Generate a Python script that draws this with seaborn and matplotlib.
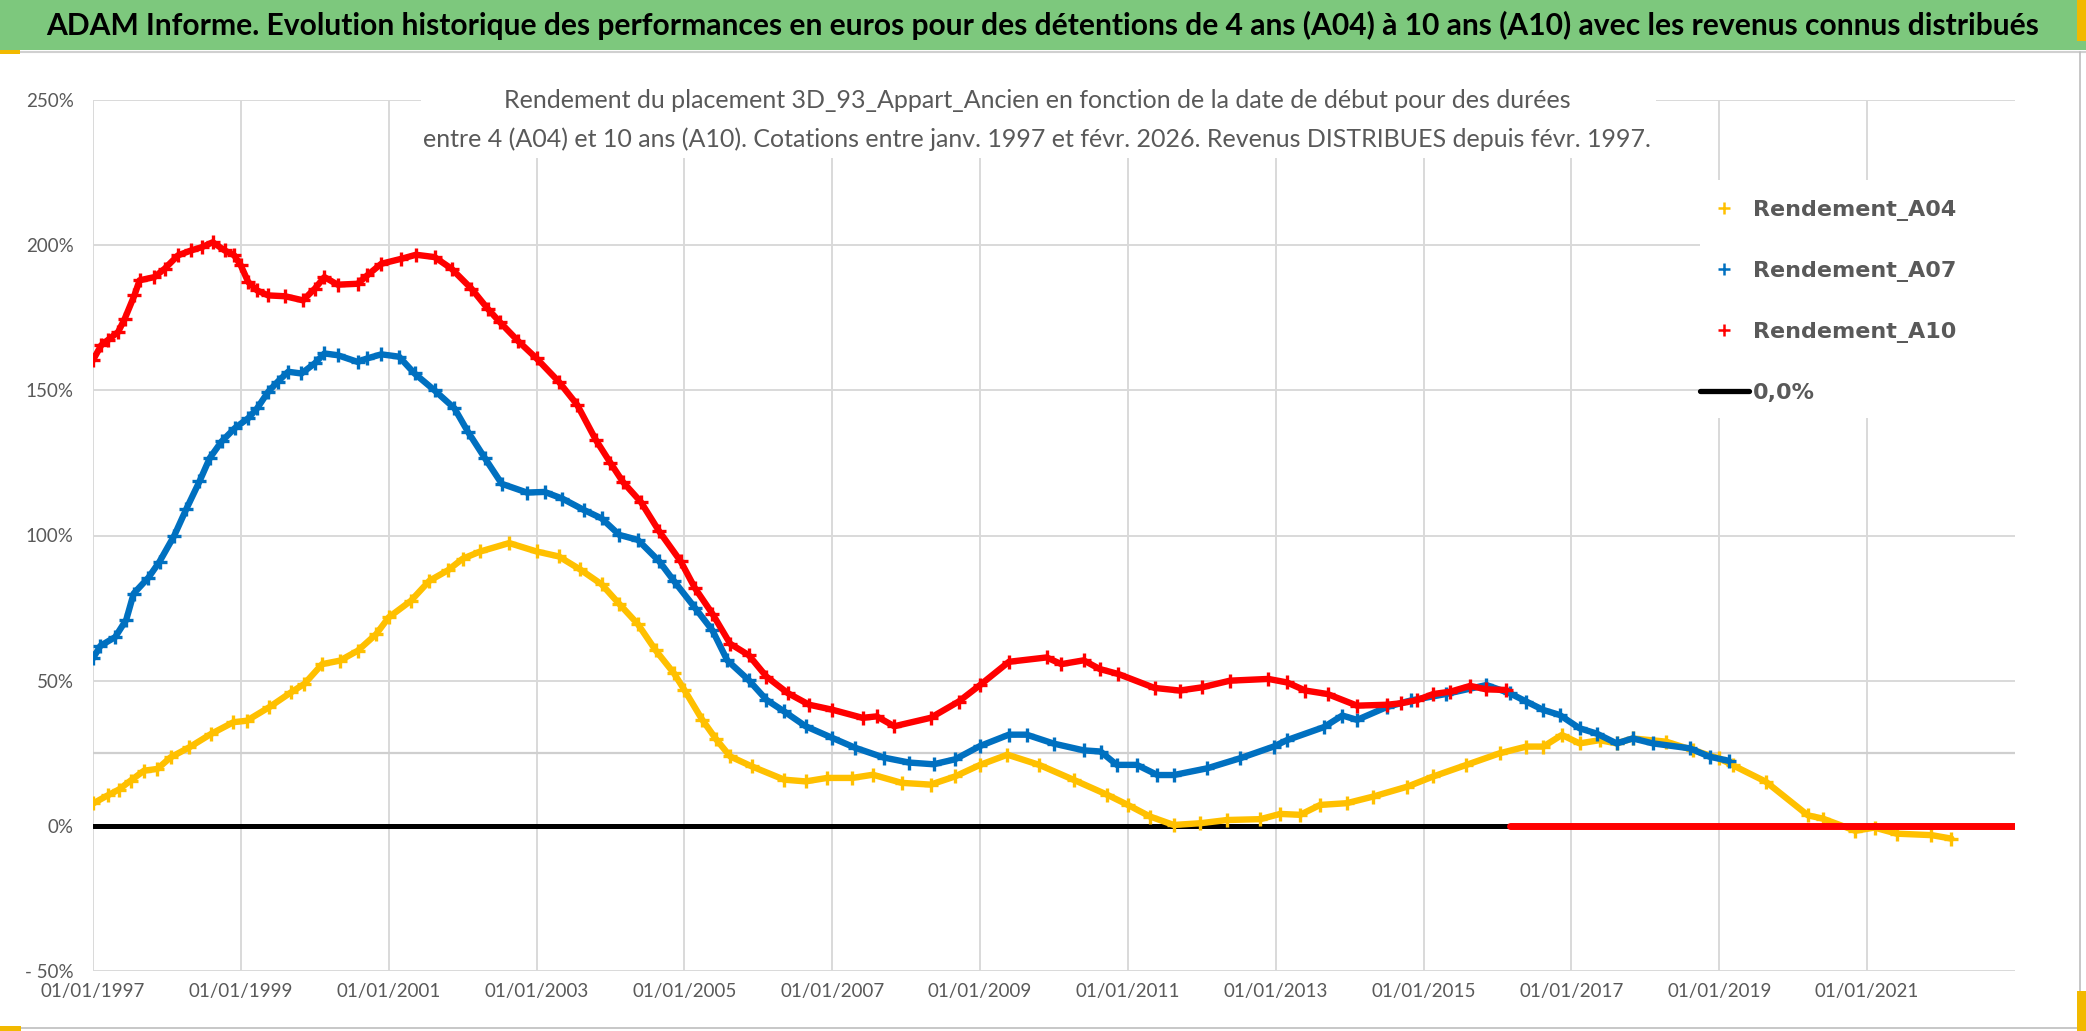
import matplotlib
matplotlib.use('Agg')
import matplotlib.pyplot as plt
from matplotlib.lines import Line2D
from matplotlib.patches import Rectangle
import seaborn as sns

# start date (decimal year) -> return in %
a04_years = [1997.0, 1997.2, 1997.35, 1997.51, 1997.69, 1997.87, 1998.05, 1998.3, 1998.6, 1998.9,
             1999.08, 1999.38, 1999.68, 1999.86, 2000.1, 2000.34, 2000.58, 2000.83, 2001.0, 2001.3,
             2001.55, 2001.8, 2002.0, 2002.24, 2002.63, 2003.0, 2003.3, 2003.59, 2003.88, 2004.12,
             2004.37, 2004.61, 2004.86, 2005.0, 2005.24, 2005.43, 2005.62, 2005.91, 2006.35, 2006.64,
             2006.93, 2007.27, 2007.55, 2007.94, 2008.33, 2008.66, 2009.0, 2009.37, 2009.8, 2010.27,
             2010.72, 2011.0, 2011.3, 2011.62, 2011.98, 2012.34, 2012.79, 2013.06, 2013.33, 2013.6,
             2013.96, 2014.32, 2014.78, 2015.13, 2015.58, 2016.03, 2016.39, 2016.62, 2016.87, 2017.11,
             2017.38, 2017.61, 2017.83, 2018.28, 2018.64, 2019.0, 2019.18, 2019.63, 2020.2, 2020.4,
             2020.84, 2021.1, 2021.4, 2021.87, 2022.14]
a04_values = [7.7, 10.5, 12.5, 15.6, 19, 19.6, 23.6, 27, 31.7, 35.7,
              36.2, 40.8, 46, 48.9, 55.7, 56.9, 60.3, 66, 71.8, 77.5,
              84.4, 88, 92, 94.5, 97.4, 94.5, 92.8, 88.3, 83.2, 76.4,
              69.5, 60.5, 52.5, 46.8, 36.6, 29.8, 23.9, 20.5, 15.9, 15.3,
              16.5, 16.5, 17.6, 14.8, 14.2, 17, 21, 24.5, 21, 15.8,
              10.7, 7.2, 3.2, 0.3, 0.9, 2, 2.3, 4.1, 3.8, 7.2,
              7.8, 10.1, 13.5, 17, 21, 25, 27.3, 27.3, 31.3, 28.4,
              29.5, 28.4, 30.1, 29, 26.1, 23.2, 20.9, 15.2, 3.6, 2.5,
              -1.7, -0.6, -2.7, -3.2, -4.4]

a07_years = [1997.0, 1997.1, 1997.3, 1997.45, 1997.55, 1997.75, 1997.9, 1998.1, 1998.26, 1998.44,
             1998.58, 1998.74, 1998.92, 1999.1, 1999.22, 1999.37, 1999.5, 1999.64, 1999.82, 2000.0,
             2000.13, 2000.31, 2000.58, 2000.71, 2000.9, 2001.14, 2001.35, 2001.62, 2001.89, 2002.07,
             2002.3, 2002.53, 2002.87, 2003.11, 2003.35, 2003.64, 2003.88, 2004.12, 2004.37, 2004.66,
             2004.86, 2005.14, 2005.38, 2005.58, 2005.87, 2006.11, 2006.35, 2006.64, 2007.0, 2007.31,
             2007.7, 2008.04, 2008.37, 2008.66, 2009.0, 2009.39, 2009.63, 2010.0, 2010.4, 2010.63,
             2010.85, 2011.12, 2011.4, 2011.62, 2012.07, 2012.52, 2012.97, 2013.15, 2013.65, 2013.9,
             2014.1, 2014.5, 2014.83, 2015.3, 2015.85, 2016.17, 2016.39, 2016.62, 2016.84, 2017.11,
             2017.34, 2017.61, 2017.83, 2018.1, 2018.6, 2018.87, 2019.13]
a07_values = [57.7, 62, 65, 71, 80, 85.5, 91, 100, 109, 118.6,
              126.7, 132.4, 137, 140.4, 143.8, 149.5, 153, 156.4, 155.8, 159.3,
              162.7, 162.1, 159.8, 161, 162.4, 161.6, 155.8, 150, 143.8, 135.8,
              126.7, 117.8, 114.8, 115, 112.7, 108.8, 105.9, 100.2, 98.5, 91.1,
              84.3, 75.2, 67.3, 57, 50.2, 43.4, 39.4, 34.3, 30.3, 26.9,
              23.5, 21.8, 21.2, 22.9, 27.5, 31.4, 31.4, 28.3, 26, 25.6,
              21, 21, 17.5, 17.5, 19.8, 23.3, 27.3, 29.5, 34, 38,
              36.5, 40.9, 43.2, 45.4, 48.5, 45.6, 42.8, 39.9, 38.2, 33.6,
              31.8, 28.4, 30.1, 28.4, 26.7, 23.8, 22.4]

a10_years = [1997.0, 1997.11, 1997.2, 1997.34, 1997.43, 1997.56, 1997.63, 1997.83, 1997.97, 1998.15,
             1998.33, 1998.47, 1998.62, 1998.78, 1998.91, 1999.0, 1999.1, 1999.22, 1999.37, 1999.6,
             1999.84, 2000.0, 2000.13, 2000.31, 2000.58, 2000.71, 2000.9, 2001.17, 2001.37, 2001.62,
             2001.85, 2002.12, 2002.34, 2002.5, 2002.75, 2003.0, 2003.3, 2003.55, 2003.8, 2004.0,
             2004.17, 2004.41, 2004.66, 2004.95, 2005.14, 2005.38, 2005.62, 2005.87, 2006.11, 2006.4,
             2006.69, 2007.0, 2007.41, 2007.6, 2007.84, 2008.33, 2008.71, 2009.0, 2009.39, 2009.9,
             2010.1, 2010.4, 2010.62, 2010.87, 2011.36, 2011.7, 2012.0, 2012.38, 2012.9, 2013.15,
             2013.4, 2013.7, 2014.1, 2014.5, 2014.69, 2014.91, 2015.13, 2015.36, 2015.63, 2015.85,
             2016.12]
a10_values = [160.4, 165.5, 167.3, 170.1, 174.7, 182.7, 187.9, 189, 191.9, 196.5,
              198.2, 199.3, 201, 198.2, 196.5, 193, 187.3, 184.4, 182.7, 182.4,
              181, 185, 189, 186.4, 186.7, 189.6, 193.6, 195.3, 196.7, 195.9,
              191.9, 185, 178.1, 173.6, 167, 161, 153, 145, 133, 125,
              118.4, 111.6, 101.4, 91.1, 82, 73, 62.7, 58.8, 51.4, 45.7,
              41.7, 40, 37.2, 37.7, 34.3, 37.2, 42.8, 48.5, 56.5, 58,
              55.7, 57, 54, 52.3, 47.5, 46.6, 47.7, 50, 50.6, 49.4,
              46.6, 45.4, 41.4, 41.7, 42.2, 43.3, 45.4, 46.2, 48.2, 47,
              46.8]
# A10 values shown as 0 once the 10 years are not yet elapsed
a10_zero_years = [2016.17, 2023.0]
a10_zero_values = [0, 0]

x_ticks = list(range(1997, 2022, 2))
x_labels = ['01/01/%d' % y for y in x_ticks]
y_ticks = [-50, 0, 50, 100, 150, 200, 250]
y_labels = ['- 50%', '0%', '50%', '100%', '150%', '200%', '250%']
legend_labels = ['Rendement_A04', 'Rendement_A07', 'Rendement_A10', '0,0%']

title = ('ADAM Informe. Evolution historique des performances en euros pour des détentions '
         'de 4 ans (A04) à 10 ans (A10) avec les revenus connus distribués')
sub1 = 'Rendement du placement 3D_93_Appart_Ancien en fonction de la date de début pour des durées'
sub2 = ('entre 4 (A04) et 10 ans (A10). Cotations entre janv. 1997 et févr. 2026. '
        'Revenus DISTRIBUES depuis févr. 1997.')

YELLOW = '#FFC000'
BLUE = '#0070C0'
RED = '#FF0000'
GREY_TXT = '#595959'
GRID = '#D9D9D9'

sns.set_style('white')
plt.rcParams['font.family'] = ['Lato', 'DejaVu Sans']

W, H = 2086, 1031
fig = plt.figure(figsize=(W / 100, H / 100), dpi=100)
ax = fig.add_axes([93 / W, 60 / H, (2015 - 93) / W, (971 - 100) / H])

# reference lines
ax.axhline(25, color='#CFCFCF', lw=1.6, zorder=1)
ax.axhline(0, color='black', lw=3.6, zorder=2)

style = dict(lw=4.6, marker='+', markersize=10, markeredgewidth=2.4, estimator=None, ax=ax)
sns.lineplot(x=a04_years, y=a04_values, color=YELLOW, mec=YELLOW, zorder=3, **style)
sns.lineplot(x=a07_years, y=a07_values, color=BLUE, mec=BLUE, zorder=4, **style)
sns.lineplot(x=a10_years, y=a10_values, color=RED, mec=RED, zorder=5, **style)
sns.lineplot(x=a10_zero_years, y=a10_zero_values, color=RED, lw=5, zorder=5,
             estimator=None, ax=ax)

ax.set_xlim(1997, 2023)
ax.set_ylim(-50, 250)
ax.set_xticks(x_ticks)
ax.set_xticklabels(x_labels)
ax.set_yticks(y_ticks)
ax.set_yticklabels(y_labels)
ax.grid(True, color=GRID, lw=1.4, zorder=0)
ax.set_axisbelow(True)
for s in ax.spines.values():
    s.set_visible(False)
ax.tick_params(axis='both', length=0, labelcolor=GREY_TXT, labelsize=13.5)
ax.tick_params(axis='y', pad=14)
ax.tick_params(axis='x', pad=9)
ax.set_xlabel('')
ax.set_ylabel('')

# title band
fig.patches.append(Rectangle((0, 1 - 50 / H), 1, 50 / H, transform=fig.transFigure,
                             facecolor='#7DC87D', edgecolor='none', zorder=0))
fig.add_artist(Line2D([0, 1], [1 - 52 / H, 1 - 52 / H], color='#D0D0D0', lw=1.5))
fig.text(0.5, 1 - 25 / H, title, ha='center', va='center', fontsize=21.6,
         fontweight='bold', color='black')

# subtitle on a white box
fig.patches.append(Rectangle((421 / W, 1 - 158 / H), (1656 - 421) / W, (158 - 92) / H,
                             transform=fig.transFigure, facecolor='white',
                             edgecolor='none', zorder=1))
fig.text(1037 / W, 1 - 101 / H, sub1, ha='center', va='center', fontsize=18, color=GREY_TXT)
fig.text(1037 / W, 1 - 139 / H, sub2, ha='center', va='center', fontsize=18, color=GREY_TXT)

# legend on a white box
fig.patches.append(Rectangle((1700 / W, 1 - 418 / H), (2015 - 1700) / W, (418 - 180) / H,
                             transform=fig.transFigure, facecolor='white',
                             edgecolor='none', zorder=1))
handles = [Line2D([], [], color=YELLOW, marker='+', ls='none', ms=9, mew=1.8),
           Line2D([], [], color=BLUE, marker='+', ls='none', ms=9, mew=1.8),
           Line2D([], [], color=RED, marker='+', ls='none', ms=9, mew=1.8),
           Line2D([], [], color='black', lw=3.8)]
fig.legend(handles, legend_labels, loc='upper left', bbox_to_anchor=(1682 / W, 1 - 182 / H),
           frameon=False, borderaxespad=0, borderpad=0.8, handlelength=2.2,
           handletextpad=0.18, labelspacing=1.8, labelcolor=GREY_TXT,
           prop={'family': 'DejaVu Sans', 'weight': 'bold', 'size': 16})

# chart frame
fig.add_artist(Line2D([2080 / W, 2080 / W], [0, 1 - 52 / H], color='#BDBDBD', lw=1.2))
fig.add_artist(Line2D([0, 2080 / W], [3 / H, 3 / H], color='#BDBDBD', lw=1.2))
for x0, y0, w, h in [(0, 0, 21, 5), (0, 977, 20, 4), (2077, 0, 9, 40), (2077, 990, 9, 41)]:
    fig.patches.append(Rectangle((x0 / W, y0 / H), w / W, h / H, transform=fig.transFigure,
                                 facecolor='#F2B900', edgecolor='none', zorder=2))

fig.savefig('out.png', dpi=100)
